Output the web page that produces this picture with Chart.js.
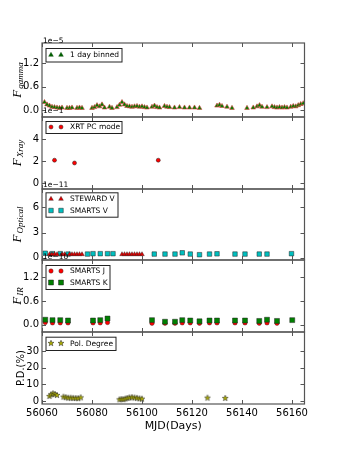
<!DOCTYPE html>
<html><head><meta charset="utf-8">
<script src="https://cdn.jsdelivr.net/npm/chart.js@4/dist/chart.umd.min.js"></script>
<style>
html,body{margin:0;padding:0;background:#fff;}
body{width:338px;height:450px;position:relative;overflow:hidden;}
canvas{position:absolute;left:0;top:0;}
</style></head>
<body>
<canvas id="p1" width="338" height="450"></canvas>
<canvas id="p2" width="338" height="450"></canvas>
<canvas id="p3" width="338" height="450"></canvas>
<canvas id="p4" width="338" height="450"></canvas>
<canvas id="p5" width="338" height="450"></canvas>
<script>
// ---------------- DATA ----------------
const X_TICKS = [56060, 56080, 56100, 56120, 56140, 56160];

// Fermi gamma-ray flux, 1 day binned (units of 1e-5)
const gammaMJD  = [56061,56062,56063,56064,56065,56066,56067,56068,56070,56071,56072,56074,56075,56076,
                   56080,56081,56082,56083,56084,56085,56087,56088,
                   56090,56091,56092,56093,56094,56095,56096,56097,56098,56099,56100,56101,56102,
                   56104,56105,56106,56107,56109,56110,56111,56113,
                   56115,56117,56119,56121,56123,
                   56130,56131,56132,56134,56136,
                   56142,56144.5,56146,56147,56148,56150,
                   56152,56153,56154,56155,56156,56157,56158,
                   56159.5,56160.5,56161.5,56162.5,56163.5,56164.5];
const gammaFlux = [0.20,0.14,0.11,0.08,0.07,0.06,0.05,0.06,0.05,0.05,0.06,0.05,0.06,0.05,
                   0.05,0.07,0.12,0.09,0.14,0.06,0.08,0.05,
                   0.07,0.13,0.20,0.14,0.10,0.09,0.08,0.09,0.10,0.08,0.09,0.07,0.06,
                   0.08,0.11,0.07,0.06,0.10,0.08,0.07,0.06,
                   0.07,0.06,0.06,0.06,0.05,
                   0.11,0.13,0.10,0.08,0.05,
                   0.05,0.06,0.09,0.12,0.08,0.07,
                   0.09,0.07,0.06,0.07,0.06,0.07,0.06,
                   0.08,0.10,0.09,0.12,0.15,0.17];
const gammaTicks = [0, 0.6, 1.2];

// Swift XRT PC mode (units of 1e-1)
const xrayMJD  = [56065, 56073, 56106.5];
const xrayFlux = [2.1, 1.85, 2.1];
const xrayTicks = [0, 2, 4];

// Optical V band (units of 1e-11)
const stewardMJD = [56063,56064,56065,56066,56068,56069,56071,56072,56073,56074,56075,56076,
                    56092,56093,56094,56095,56096,56097,56098,56099,56100];
const stewardV   = [0.42,0.42,0.43,0.42,0.42,0.42,0.42,0.42,0.42,0.42,0.42,0.42,
                    0.42,0.42,0.42,0.42,0.42,0.42,0.42,0.42,0.42];
const smartsVMJD = [56061.3,56064.2,56067.3,56070.4,56078.2,56080.4,56083.3,56086.2,56088.4,
                    56104.9,56109.2,56113.2,56116.1,56119.3,56123,56127,56130,
                    56137.2,56141.2,56146.9,56150,56159.8];
const smartsV    = [0.55,0.50,0.50,0.45,0.45,0.50,0.50,0.50,0.50,
                    0.45,0.45,0.45,0.60,0.45,0.38,0.45,0.48,
                    0.45,0.45,0.45,0.45,0.50];
const optTicks = [0, 3, 6];

// Near-IR SMARTS J and K (units of 1e-10)
const irMJD   = [56061.3,56064.2,56067.3,56070.4,56080.4,56083.3,56086.2,
                 56104,56109.2,56113.2,56116.1,56119.3,56123,56127,56130,
                 56137.2,56141.2,56146.9,56150,56154,56160.1];
const smartsJ = [0.06,0.05,0.05,0.05,0.05,0.05,0.06,
                 0.04,0.04,0.04,0.05,0.05,0.04,0.05,0.05,
                 0.05,0.05,0.04,0.05,0.04,null];
const smartsK = [0.13,0.12,0.12,0.11,0.11,0.12,0.16,
                 0.12,0.08,0.08,0.12,0.11,0.09,0.11,0.11,
                 0.11,0.11,0.10,0.13,0.10,0.12];
const irTicks = [0, 0.6, 1.2];

// Optical polarization degree (%)
const polMJD = [56063,56063.7,56064.4,56065.2,56066,
                56068.6,56069.5,56070.5,56071.5,56072.5,56073.5,56074.5,56075.5,
                56091,56091.8,56092.6,56093.4,56094.2,56095,56096,56097,56098,56099,56100,
                56126.2,56133.3];
const polDeg = [3.0,4.0,4.6,4.2,3.6,
                2.6,2.3,2.0,2.0,1.9,1.8,1.7,2.2,
                1.0,1.2,1.1,1.5,1.8,2.2,2.3,2.1,1.9,1.6,1.4,
                2.0,1.8];
const polTicks = [0, 10, 20, 30];

// ---------------- HELPERS ----------------
const pts = (xs, ys) => xs.map((x, i) => ({x: x, y: ys[i]}));

function markerPath(ctx, st, x, y) {
  const r = st.r;
  ctx.beginPath();
  if (st.style === 'circle') {
    ctx.arc(x, y, r, 0, Math.PI * 2);
  } else if (st.style === 'triangle') {
    for (let i = 0; i < 3; i++) {
      const a = i * 2 * Math.PI / 3;
      const px = x + Math.sin(a) * r, py = y - Math.cos(a) * r;
      if (i === 0) ctx.moveTo(px, py); else ctx.lineTo(px, py);
    }
  } else if (st.style === 'rect') {
    const s = r * Math.SQRT1_2;
    ctx.rect(x - s, y - s, 2 * s, 2 * s);
  } else if (st.style === 'star') {
    const ri = r * 0.42;
    for (let i = 0; i < 10; i++) {
      const a = i * Math.PI / 5;
      const rr = (i % 2 === 0) ? r : ri;
      const px = x + Math.sin(a) * rr, py = y - Math.cos(a) * rr;
      if (i === 0) ctx.moveTo(px, py); else ctx.lineTo(px, py);
    }
  }
  ctx.closePath();
}
function drawMarker(ctx, st, x, y) {
  ctx.save();
  markerPath(ctx, st, x, y);
  ctx.fillStyle = st.fill; ctx.fill();
  if (st.bw) { ctx.lineWidth = st.bw; ctx.strokeStyle = st.stroke; ctx.stroke(); }
  ctx.restore();
}

// marker styles
const M = {
  gamma:   {style:'triangle', r:2.7, fill:'#008000', stroke:'#d84040', bw:0.6},
  gammaLg: {style:'triangle', r:2.7, fill:'#006400', stroke:'#004000', bw:0.4},
  xray:    {style:'circle',   r:2.0, fill:'#ff0000', stroke:'#222',    bw:0.5},
  steward: {style:'triangle', r:2.7, fill:'#dd0000', stroke:'#222',    bw:0.4},
  smartsV: {style:'rect',     r:3.2, fill:'#00bfbf', stroke:'#222',    bw:0.5},
  J:       {style:'circle',   r:2.2, fill:'#ff0000', stroke:'#222',    bw:0.4},
  K:       {style:'rect',     r:3.5, fill:'#008000', stroke:'#222',    bw:0.5},
  pol:     {style:'star',     r:3.1, fill:'#b0b000', stroke:'#222',    bw:0.5}
};

// star image for Chart.js point style
const starImg = document.createElement('canvas');
starImg.width = 8; starImg.height = 8;
drawMarker(starImg.getContext('2d'), M.pol, 4, 4.3);

function ds(data, st, order) {
  return {
    data: data,
    pointStyle: st.style === 'star' ? starImg : st.style,
    pointRadius: st.r,
    pointBackgroundColor: st.fill,
    pointBorderColor: st.stroke,
    pointBorderWidth: st.bw,
    showLine: false,
    order: order || 0
  };
}

const FRAME = '#555';

function decorPlugin(d) {
  return {
    id: 'decor_' + d.key,
    afterDraw(chart) {
      const ctx = chart.ctx, a = chart.chartArea;
      const xs = chart.scales.x, ys = chart.scales.y;
      ctx.save();
      // inward ticks
      ctx.strokeStyle = FRAME; ctx.lineWidth = 1;
      ctx.beginPath();
      X_TICKS.forEach(v => {
        const px = Math.round(xs.getPixelForValue(v)) + 0.5;
        ctx.moveTo(px, a.bottom); ctx.lineTo(px, a.bottom - 4);
        ctx.moveTo(px, a.top); ctx.lineTo(px, a.top + 4);
      });
      d.yTicks.forEach(v => {
        const py = Math.round(ys.getPixelForValue(v)) + 0.5;
        ctx.moveTo(a.left, py); ctx.lineTo(a.left + 4, py);
        ctx.moveTo(a.right, py); ctx.lineTo(a.right - 4, py);
      });
      ctx.stroke();
      // frame
      ctx.lineWidth = 1.2;
      ctx.strokeRect(a.left, a.top, a.right - a.left, a.bottom - a.top);

      // legend
      const L = d.legend;
      ctx.fillStyle = '#fff';
      ctx.fillRect(L.x, L.y, L.w, L.h);
      ctx.strokeStyle = '#222'; ctx.lineWidth = 1;
      ctx.strokeRect(L.x + 0.5, L.y + 0.5, L.w, L.h);
      ctx.font = '7.5px "DejaVu Sans"';
      ctx.textBaseline = 'middle'; ctx.textAlign = 'left';
      L.rows.forEach(r => {
        drawMarker(ctx, r.m, L.x + 5.5, r.y);
        drawMarker(ctx, r.m, L.x + 15.5, r.y);
        ctx.fillStyle = '#000';
        ctx.fillText(r.label, L.x + 24.5, r.y + 0.5);
      });

      // offset text
      if (d.offset) {
        ctx.fillStyle = '#000';
        ctx.font = '7.5px "DejaVu Sans"';
        ctx.textBaseline = 'alphabetic'; ctx.textAlign = 'left';
        ctx.fillText(d.offset, a.left + 1, a.top - d.offDy);
      }

      // y title
      const cy = (a.top + a.bottom) / 2;
      ctx.translate(17, cy);
      ctx.rotate(-Math.PI / 2);
      ctx.fillStyle = '#000';
      ctx.textBaseline = 'alphabetic';
      if (d.sub) {
        const f1 = 'italic 13px "Liberation Serif"', f2 = 'italic 9px "Liberation Serif"';
        ctx.font = f1; const w1 = ctx.measureText('F').width;
        ctx.font = f2; const w2 = ctx.measureText(d.sub).width;
        const x0 = -(w1 + w2 + 1) / 2;
        ctx.font = f1; ctx.fillText('F', x0, 4);
        ctx.font = f2; ctx.fillText(d.sub, x0 + w1 + 1, 6);
      } else {
        ctx.font = '10px "DejaVu Sans"';
        ctx.textAlign = 'center';
        ctx.fillText(d.title, 0, 7);
      }
      ctx.restore();
    }
  };
}

const LEFT = 42, RIGHT = 304.5;

function panel(id, top, bottom, datasets, yMin, yMax, yTicks, fmt, decor, isLast) {
  const axisH = isLast ? 29 : 0;
  decor.yTicks = yTicks;
  new Chart(document.getElementById(id), {
    type: 'scatter',
    data: { datasets: datasets },
    options: {
      responsive: false, animation: false, devicePixelRatio: 1,
      layout: { padding: { top: top, left: 0, right: 338 - RIGHT, bottom: 450 - bottom - axisH } },
      plugins: { legend: {display: false}, tooltip: {enabled: false}, title: {display: false} },
      scales: {
        x: {
          type: 'linear', min: 56060, max: 56165,
          grid: {display: false, drawTicks: false}, border: {display: false},
          afterBuildTicks: s => { s.ticks = X_TICKS.map(v => ({value: v})); },
          ticks: { display: isLast, padding: 3, autoSkip: false, maxRotation: 0,
                   font: {family: 'DejaVu Sans', size: 10}, color: '#000',
                   callback: v => String(v) },
          title: { display: isLast, text: 'MJD(Days)', color: '#000',
                   font: {family: 'DejaVu Sans', size: 11}, padding: {top: 0, bottom: 0} },
          afterFit: s => { s.height = axisH; }
        },
        y: {
          type: 'linear', min: yMin, max: yMax,
          grid: {display: false, drawTicks: false}, border: {display: false},
          afterBuildTicks: s => { s.ticks = yTicks.map(v => ({value: v})); },
          ticks: { padding: 3, font: {family: 'DejaVu Sans', size: 10}, color: '#000', callback: fmt },
          afterFit: s => { s.width = LEFT; }
        }
      }
    },
    plugins: [decorPlugin(decor)]
  });
}

const f1 = v => v.toFixed(1);
const f0 = v => String(v);

// Panel 1: gamma
panel('p1', 43, 117, [ds(pts(gammaMJD, gammaFlux), M.gamma)],
  -0.18, 1.72, gammaTicks, f1,
  {key: 'g', sub: 'gamma', offset: '1e\u22125', offDy: 0.5,
   legend: {x: 45.5, y: 48, w: 76, h: 13.5, rows: [{label: '1 day binned', m: M.gammaLg, y: 55}]}});

// Panel 2: X-ray
panel('p2', 117, 189, [ds(pts(xrayMJD, xrayFlux), M.xray)],
  -0.5, 6.0, xrayTicks, f0,
  {key: 'x', sub: 'Xray', offset: '1e\u22121', offDy: 4.5,
   legend: {x: 45.5, y: 121, w: 76, h: 12, rows: [{label: 'XRT PC mode', m: M.xray, y: 127}]}});

// Panel 3: Optical
panel('p3', 189, 260, [ds(pts(stewardMJD, stewardV), M.steward, 1), ds(pts(smartsVMJD, smartsV), M.smartsV, 2)],
  -0.25, 8.15, optTicks, f0,
  {key: 'o', sub: 'Optical', offset: '1e\u221211', offDy: 2.5,
   legend: {x: 45.5, y: 192.3, w: 72, h: 24.4, rows: [
     {label: 'STEWARD V', m: M.steward, y: 199},
     {label: 'SMARTS V', m: M.smartsV, y: 210.5}]}});

// Panel 4: IR
panel('p4', 260, 332, [ds(pts(irMJD, smartsJ), M.J, 2), ds(pts(irMJD, smartsK), M.K, 1)],
  -0.18, 1.64, irTicks, f1,
  {key: 'i', sub: 'IR', offset: '1e\u221210', offDy: 1,
   legend: {x: 45.5, y: 265, w: 64, h: 24, rows: [
     {label: 'SMARTS J', m: M.J, y: 271},
     {label: 'SMARTS K', m: M.K, y: 282.5}]}});

// Panel 5: polarization
panel('p5', 332, 404, [ds(pts(polMJD, polDeg), M.pol)],
  -1.8, 41.4, polTicks, f0,
  {key: 'p', title: 'P.D.(%)', offset: '',
   legend: {x: 45.5, y: 336.7, w: 70, h: 13.3, rows: [{label: 'Pol. Degree', m: M.pol, y: 343.3}]}},
  true);
</script>
</body></html>
